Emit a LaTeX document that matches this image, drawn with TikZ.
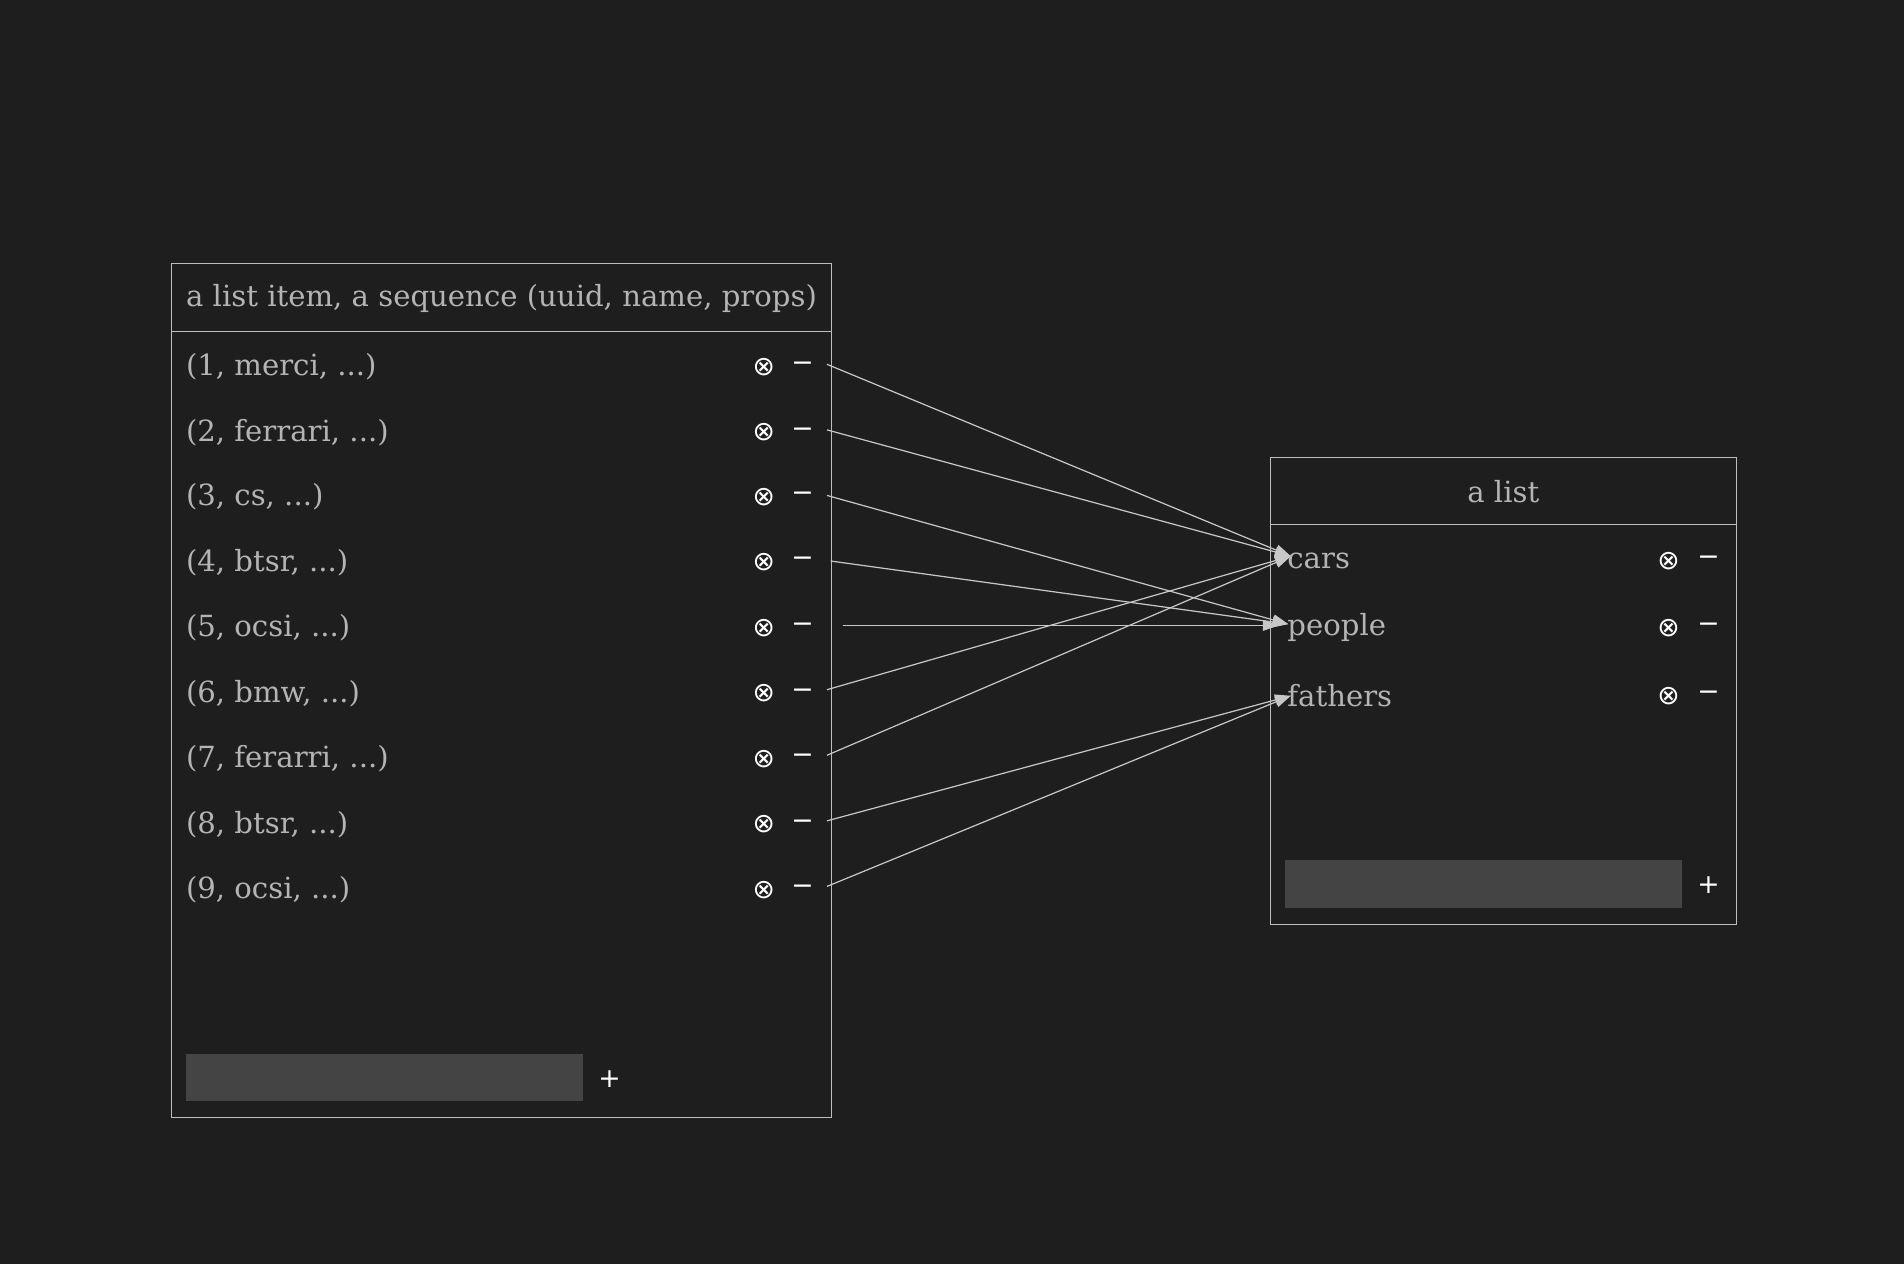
\documentclass[tikz,border=0pt]{standalone}
\usepackage{fontspec}
\setmainfont{DejaVu Serif}
\newfontfamily\symf{DejaVu Sans}
\usetikzlibrary{arrows.meta}
\definecolor{bg}{HTML}{1E1E1E}
\definecolor{txt}{HTML}{B4B4B4}
\definecolor{ln}{HTML}{BDBDBD}
\definecolor{bar}{HTML}{444444}
\begin{document}
\begin{tikzpicture}[x=1pt,y=-1pt,
  lbl/.style={text=txt,font=\fontsize{24}{28}\selectfont,inner sep=0pt},
  sym/.style={text=white,font=\symf\fontsize{22}{26}\selectfont,inner sep=0pt},
  boxln/.style={draw=ln,line width=0.9pt},
  conn/.style={draw=ln!85,line width=1pt,-{Triangle[length=13pt,width=9pt]}}]
\fill[bg] (0,0) rectangle (1568,1041);
\useasboundingbox (0,0) rectangle (1568,1041);
% left box
\draw[boxln] (141,217) rectangle (685,920);
\draw[boxln] (141,273) -- (685,273);
\node[lbl] (lh) at (413,246) {a list item, a sequence (uuid, name, props)};
\foreach \i/\t/\y in {1/{(1, merci, ...)}/302,2/{(2, ferrari, ...)}/356,3/{(3, cs, ...)}/409,4/{(4, btsr, ...)}/463,5/{(5, ocsi, ...)}/517,6/{(6, bmw, ...)}/571,7/{(7, ferarri, ...)}/625,8/{(8, btsr, ...)}/679,9/{(9, ocsi, ...)}/733}{
  \node[lbl,anchor=west] (l\i) at (153,\y) {\t};
  \node[sym] (lx\i) at (629,\y) {⊗};
  \node[sym] (lm\i) at (661,\y) {−};
}
\fill[bar] (153,868) rectangle (480,907);
\node[sym] (lplus) at (502,889) {+};
% right box
\draw[boxln] (1046,377) rectangle (1430,761);
\draw[boxln] (1046,432) -- (1430,432);
\node[lbl] (rh) at (1238,405) {a list};
\foreach \n/\t/\y in {cars/cars/462,people/people/517,fathers/fathers/573}{
  \node[lbl,anchor=west] (\n) at (1060,\y) {\t};
  \node[sym] at (1374,\y) {⊗};
  \node[sym] at (1407,\y) {−};
}
\fill[bar] (1058,708) rectangle (1385,748);
\node[sym] (rplus) at (1407,729) {+};
% endpoints
\coordinate (s1) at (681,300); \coordinate (s2) at (681,354);
\coordinate (s3) at (681,408); \coordinate (s4) at (684,462);
\coordinate (s5) at (694,515); \coordinate (s6) at (681,568);
\coordinate (s7) at (681,622); \coordinate (s8) at (681,676);
\coordinate (s9) at (681,730);
\coordinate (tc) at (1063,458); \coordinate (tp) at (1061,514);
\coordinate (tp5) at (1053,515); \coordinate (tf) at (1063,573);
\foreach \s in {s1,s2,s6,s7} \draw[conn] (\s) -- (tc);
\foreach \s in {s3,s4} \draw[conn] (\s) -- (tp);
\draw[conn] (s5) -- (tp5);
\foreach \s in {s8,s9} \draw[conn] (\s) -- (tf);
\end{tikzpicture}
\end{document}
